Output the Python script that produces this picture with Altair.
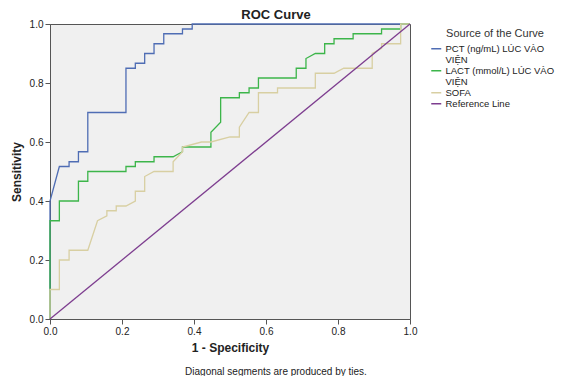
import altair as alt
import pandas as pd

# ---- data ----
series_names = ["PCT (ng/mL) LÚC VÀO VIỆN", "LACT (mmol/L)  LÚC VÀO VIỆN", "SOFA", "Reference Line"]
series_colors = ["#4f6db4", "#3cb54a", "#d8cfa2", "#7d3d8f"]

pct_fpr = [0.0, 0.0, 0.026, 0.053, 0.053, 0.079, 0.079, 0.105, 0.105, 0.211, 0.211, 0.237, 0.237,
           0.263, 0.263, 0.289, 0.289, 0.316, 0.316, 0.368, 0.368, 0.395, 0.395, 1.0]
pct_tpr = [0.0, 0.400, 0.517, 0.517, 0.533, 0.533, 0.567, 0.567, 0.700, 0.700, 0.850, 0.850, 0.867,
           0.867, 0.900, 0.900, 0.933, 0.933, 0.967, 0.967, 0.983, 0.983, 1.0, 1.0]

lact_fpr = [0.0, 0.0, 0.026, 0.026, 0.079, 0.079, 0.105, 0.105, 0.211, 0.211, 0.237, 0.237, 0.289,
            0.289, 0.342, 0.368, 0.368, 0.447, 0.447, 0.474, 0.474, 0.526, 0.526, 0.553, 0.553,
            0.579, 0.579, 0.684, 0.684, 0.711, 0.711, 0.737, 0.763, 0.763, 0.789, 0.789, 0.842,
            0.842, 0.921, 0.921, 0.974, 0.974, 1.0]
lact_tpr = [0.0, 0.333, 0.333, 0.400, 0.400, 0.467, 0.467, 0.500, 0.500, 0.517, 0.517, 0.533, 0.533,
            0.550, 0.550, 0.567, 0.583, 0.583, 0.633, 0.667, 0.750, 0.750, 0.767, 0.767, 0.783,
            0.783, 0.817, 0.817, 0.850, 0.850, 0.883, 0.900, 0.900, 0.933, 0.933, 0.950, 0.950,
            0.967, 0.967, 0.983, 0.983, 1.0, 1.0]

sofa_fpr = [0.0, 0.0, 0.026, 0.026, 0.053, 0.053, 0.105, 0.132, 0.158, 0.158, 0.184, 0.184, 0.211,
            0.237, 0.237, 0.263, 0.263, 0.289, 0.342, 0.342, 0.368, 0.368, 0.421, 0.447, 0.500,
            0.526, 0.526, 0.553, 0.579, 0.579, 0.632, 0.632, 0.737, 0.737, 0.789, 0.816, 0.895,
            0.895, 0.921, 0.921, 0.974, 0.974, 1.0]
sofa_tpr = [0.0, 0.100, 0.100, 0.200, 0.200, 0.233, 0.233, 0.333, 0.350, 0.367, 0.367, 0.383, 0.383,
            0.400, 0.433, 0.433, 0.483, 0.500, 0.500, 0.533, 0.567, 0.583, 0.600, 0.600, 0.617,
            0.617, 0.650, 0.700, 0.700, 0.767, 0.767, 0.783, 0.783, 0.833, 0.833, 0.850, 0.850,
            0.900, 0.917, 0.933, 0.933, 1.0, 1.0]

ref_fpr = [0.0, 1.0]
ref_tpr = [0.0, 1.0]

axis_ticks = [0.0, 0.2, 0.4, 0.6, 0.8, 1.0]
footnote = "Diagonal segments are produced by ties."

rows = []
for name, xs, ys in zip(series_names,
                        [pct_fpr, lact_fpr, sofa_fpr, ref_fpr],
                        [pct_tpr, lact_tpr, sofa_tpr, ref_tpr]):
    for i, (a, b) in enumerate(zip(xs, ys)):
        rows.append({"series": name, "fpr": a, "tpr": b, "i": i})
df = pd.DataFrame(rows)

label_expr = ("datum.label == 'PCT (ng/mL) LÚC VÀO VIỆN' ? ['PCT (ng/mL) LÚC VÀO', 'VIỆN'] : "
              "datum.label == 'LACT (mmol/L)  LÚC VÀO VIỆN' ? ['LACT (mmol/L)  LÚC VÀO', 'VIỆN'] : datum.label")

axis_common = dict(values=axis_ticks, format=".1f", grid=False, tickSize=5, labelFontSize=10,
                   titleFontSize=12, titleFontWeight="bold", labelPadding=2, labelFlush=False,
                   domainColor="#555", tickColor="#555", labelColor="#222", titleColor="#222")

lines = alt.Chart(df).mark_line(strokeWidth=1.3).encode(
    x=alt.X("fpr:Q", scale=alt.Scale(domain=[0, 1], nice=False),
            axis=alt.Axis(title="1 - Specificity", titlePadding=6, **axis_common)),
    y=alt.Y("tpr:Q", scale=alt.Scale(domain=[0, 1], nice=False),
            axis=alt.Axis(title="Sensitivity", titlePadding=6, **axis_common)),
    color=alt.Color("series:N", scale=alt.Scale(domain=series_names, range=series_colors),
                    legend=alt.Legend(title="Source of the Curve", orient="none", legendX=384, legendY=4,
                                      titleFontSize=11, titleFontWeight="normal", titleColor="#333",
                                      titleAnchor="middle", titlePadding=5,
                                      labelFontSize=9.5, labelColor="#222", labelExpr=label_expr,
                                      symbolType="M-3,0H1", symbolSize=25, symbolStrokeWidth=1.5,
                                      rowPadding=0, labelOffset=2, labelLimit=200)),
    order="i:Q",
)

note = alt.Chart(pd.DataFrame({"t": [footnote]})).mark_text(
    fontSize=10, color="#222", align="center", baseline="middle"
).encode(text="t:N", x=alt.value(226), y=alt.value(348))

chart = alt.layer(lines, note).properties(
    width=360, height=295,
    title=alt.TitleParams("ROC Curve", fontSize=13, fontWeight="bold", color="#222", offset=6, dx=46, dy=9),
    autosize=alt.AutoSizeParams(type="none"),
    padding={"left": 42, "top": 16, "right": 145, "bottom": 57},
).configure(font="Liberation Sans").configure_view(
    fill="#f0f0f0", stroke="#555", strokeWidth=1
)

chart.save("out.html", embed_options={"renderer": "svg", "actions": False})
